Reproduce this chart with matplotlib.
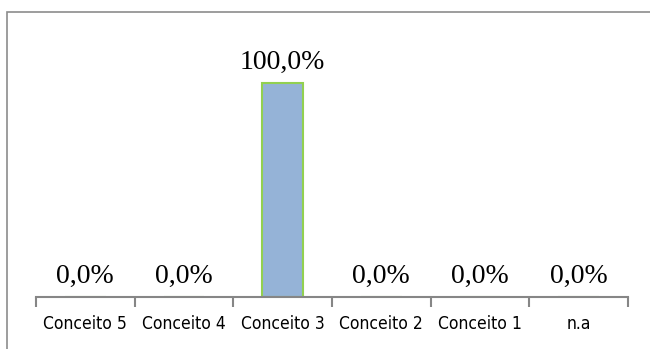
import matplotlib
matplotlib.use("Agg")
from matplotlib import pyplot as plt
from matplotlib.patches import Rectangle
from matplotlib import font_manager
import numpy as np

categorias = ["Conceito 5", "Conceito 4", "Conceito 3", "Conceito 2", "Conceito 1", "n.a"]
valores = [0.0, 0.0, 100.0, 0.0, 0.0, 0.0]

# fonte condensada, se existir
fp_ticks = font_manager.FontProperties(family="DejaVu Sans", stretch="condensed", size=12.5)
cond = "Condensed" in font_manager.findfont(fp_ticks)
if not cond:
    fp_ticks = font_manager.FontProperties(family="Liberation Sans", size=11.5)

fig = plt.figure(figsize=(6.5, 3.49), dpi=100)

# moldura cinza (só esquerda e topo visíveis)
fig.patches.append(Rectangle((7 / 650, -0.1), 1.2, 1.1 - 12 / 349,
                             transform=fig.transFigure, fill=False,
                             edgecolor="#8c8c8c", linewidth=1.2))

ax = fig.add_axes([36 / 650, 52 / 349, 592 / 650, 257 / 349])
x = np.arange(len(categorias))
ax.bar(x, valores, width=0.41, color="#95B3D7", edgecolor="#92D050", linewidth=1.5, zorder=2)

for xi, v in zip(x, valores):
    ax.annotate(f"{v:.1f}%".replace(".", ","), (xi, v), xytext=(0, 14),
                textcoords="offset pixels", ha="center", va="baseline",
                fontsize=20, family=["Liberation Serif", "DejaVu Serif"])

ax.set_xlim(-0.5, len(categorias) - 0.5)
ax.set_ylim(0, 120)
for s in ["left", "right", "top"]:
    ax.spines[s].set_visible(False)
ax.spines["bottom"].set_color("#868686")
ax.spines["bottom"].set_linewidth(1.5)
ax.set_yticks([])
ax.set_xticks(x)
ax.set_xticklabels(categorias, fontproperties=fp_ticks)
ax.tick_params(axis="x", which="major", length=0, pad=13)
ax.set_xticks(np.arange(-0.5, len(categorias)), minor=True)
ax.tick_params(axis="x", which="minor", length=7, width=1.5, color="#868686")

fig.savefig("out.png", dpi=100)
